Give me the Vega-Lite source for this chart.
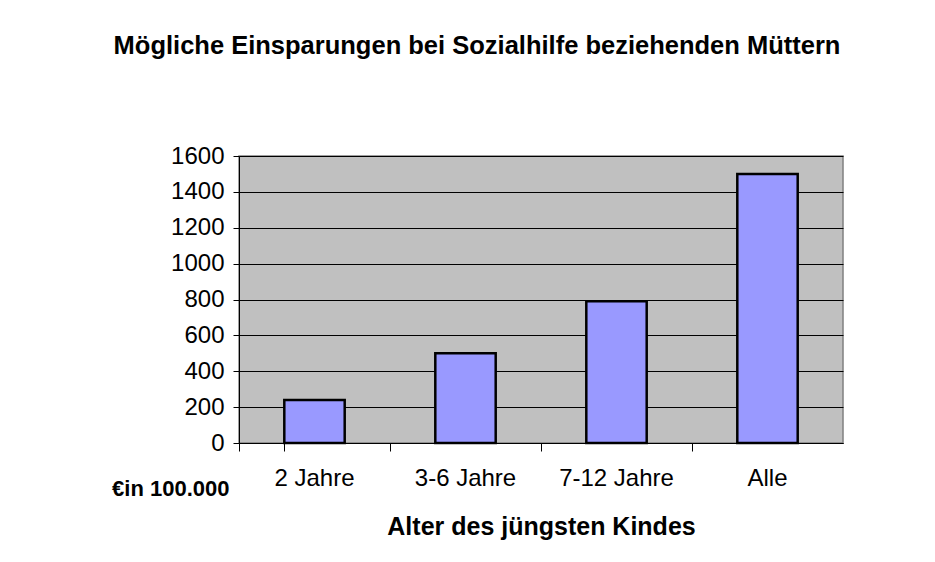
{
  "$schema": "https://vega.github.io/schema/vega-lite/v6.json",
  "width": 604,
  "height": 287,
  "autosize": "none",
  "padding": {"left": 239, "top": 156, "right": 92, "bottom": 119},
  "background": "white",
  "title": {
    "text": "Mögliche Einsparungen bei Sozialhilfe beziehenden Müttern",
    "font": "Liberation Sans",
    "fontSize": 25.5,
    "fontWeight": "bold",
    "color": "black",
    "anchor": "middle",
    "dx": -64,
    "offset": 85
  },
  "data": {
    "values": [
      {"alter": "2 Jahre", "wert": 240},
      {"alter": "3-6 Jahre", "wert": 500},
      {"alter": "7-12 Jahre", "wert": 790},
      {"alter": "Alle", "wert": 1500}
    ]
  },
  "mark": {"type": "bar", "color": "#9999FF", "stroke": "black", "strokeWidth": 2.5},
  "encoding": {
    "x": {
      "field": "alter",
      "type": "nominal",
      "sort": null,
      "scale": {"paddingInner": 0.6, "paddingOuter": 0.3},
      "axis": {
        "title": "Alter des jüngsten Kindes",
        "titleFont": "Liberation Sans",
        "titleFontSize": 25,
        "titleFontWeight": "bold",
        "titleColor": "black",
        "titlePadding": 24,
        "labelFont": "Liberation Sans",
        "labelFontSize": 24,
        "labelColor": "black",
        "labelAngle": 0,
        "labelPadding": 15,
        "ticks": true,
        "bandPosition": -0.75,
        "tickExtra": true,
        "tickSize": 8,
        "tickColor": "black",
        "tickOpacity": 1,
        "tickWidth": 1,
        "domainColor": "black",
        "grid": false
      }
    },
    "y": {
      "field": "wert",
      "type": "quantitative",
      "scale": {"domain": [0, 1600], "nice": false},
      "axis": {
        "values": [0, 200, 400, 600, 800, 1000, 1200, 1400, 1600],
        "format": "d",
        "title": "€in 100.000",
        "titleFont": "Liberation Sans",
        "titleFontSize": 22,
        "titleFontWeight": "bold",
        "titleColor": "black",
        "titleAngle": 0,
        "titleAlign": "right",
        "titleBaseline": "alphabetic",
        "titleX": -10,
        "titleY": 339,
        "labelFont": "Liberation Sans",
        "labelFontSize": 24,
        "labelColor": "black",
        "labelPadding": 9,
        "tickSize": 6,
        "tickColor": "black",
        "domainColor": "black",
        "grid": true,
        "gridColor": "black",
        "gridOpacity": 1,
        "gridWidth": 1
      }
    }
  },
  "config": {
    "view": {"fill": "#C0C0C0", "stroke": "#808080", "strokeWidth": 1.5}
  }
}
